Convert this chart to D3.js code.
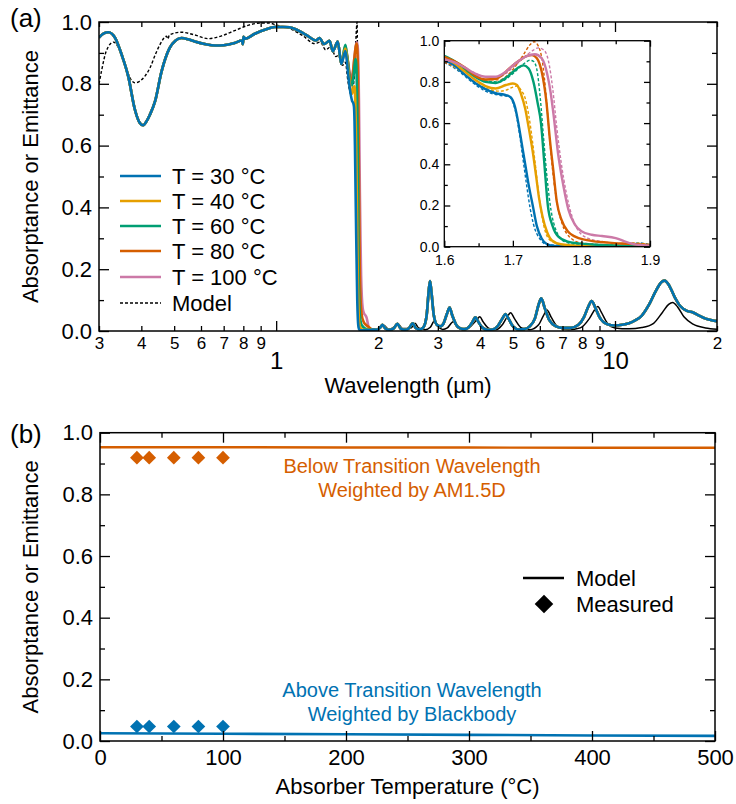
<!DOCTYPE html>
<html>
<head>
<meta charset="utf-8">
<script src="https://cdn.jsdelivr.net/npm/d3@7/dist/d3.min.js"></script>
<style>
  body { margin: 0; background: #fff; }
  svg text { font-family: "Liberation Sans", Arial, Helvetica, sans-serif; fill: #000; }
</style>
</head>
<body>
<svg id="chart" width="736" height="804"></svg>
<script>
// ---------- Panel (a): spectra, [wavelength µm, absorptance] ----------
// measured spectrum below 1.6 µm (shared by all temperatures)
const measuredShort = [[0.300,0.950],[0.310,0.963],[0.320,0.967],[0.335,0.948],[0.350,0.894],[0.366,0.824],[0.383,0.716],[0.395,0.675],[0.405,0.666],[0.415,0.680],[0.424,0.700],[0.439,0.743],[0.459,0.840],[0.485,0.916],[0.505,0.940],[0.525,0.948],[0.550,0.944],[0.575,0.937],[0.620,0.928],[0.660,0.924],[0.700,0.925],[0.754,0.932],[0.793,0.940],[0.797,0.928],[0.801,0.952],[0.810,0.946],[0.865,0.962],[0.930,0.976],[0.990,0.984],[1.050,0.984],[1.095,0.983],[1.150,0.975],[1.200,0.964],[1.250,0.952],[1.310,0.940],[1.341,0.948],[1.386,0.929],[1.437,0.939],[1.470,0.905],[1.520,0.937],[1.557,0.864]];

// measured spectrum above 1.9 µm (shared by all temperatures)
const measuredIR = [[1.920,0.005],[1.980,0.004],[2.030,0.012],[2.060,0.020],[2.100,0.008],[2.150,0.004],[2.220,0.008],[2.280,0.023],[2.330,0.008],[2.400,0.004],[2.470,0.010],[2.530,0.025],[2.580,0.010],[2.650,0.005],[2.720,0.012],[2.780,0.050],[2.820,0.130],[2.845,0.162],[2.870,0.130],[2.920,0.050],[2.980,0.020],[3.050,0.015],[3.120,0.025],[3.190,0.055],[3.250,0.076],[3.310,0.050],[3.400,0.020],[3.500,0.008],[3.600,0.006],[3.700,0.012],[3.800,0.030],[3.870,0.044],[3.950,0.030],[4.050,0.012],[4.200,0.004],[4.350,0.005],[4.500,0.015],[4.650,0.040],[4.750,0.055],[4.850,0.040],[5.000,0.015],[5.200,0.005],[5.400,0.006],[5.600,0.015],[5.800,0.040],[5.950,0.085],[6.060,0.106],[6.200,0.075],[6.400,0.035],[6.700,0.015],[7.000,0.010],[7.400,0.010],[7.800,0.020],[8.100,0.045],[8.350,0.080],[8.530,0.097],[8.750,0.075],[9.000,0.045],[9.500,0.022],[10.00,0.018],[10.50,0.020],[11.00,0.025],[11.50,0.035],[12.00,0.050],[12.60,0.085],[13.20,0.130],[13.70,0.158],[14.00,0.163],[14.40,0.150],[15.00,0.110],[15.60,0.080],[16.30,0.065],[17.00,0.060],[17.70,0.050],[18.50,0.040],[19.30,0.035],[20.00,0.032]];

// measured transition edge, 1.6–1.9 µm, per temperature
const edge30 = [[1.600,0.906],[1.615,0.880],[1.630,0.835],[1.645,0.795],[1.660,0.765],[1.675,0.745],[1.690,0.736],[1.697,0.725],[1.703,0.680],[1.708,0.600],[1.713,0.500],[1.718,0.400],[1.7225,0.310],[1.729,0.200],[1.735,0.100],[1.742,0.040],[1.750,0.012],[1.760,0.004],[1.800,0.002],[1.900,0.003]];
const edge40 = [[1.600,0.914],[1.615,0.890],[1.630,0.850],[1.645,0.810],[1.660,0.780],[1.675,0.768],[1.690,0.785],[1.700,0.792],[1.706,0.785],[1.712,0.740],[1.718,0.670],[1.723,0.580],[1.729,0.460],[1.734,0.340],[1.738,0.240],[1.743,0.150],[1.750,0.070],[1.757,0.030],[1.770,0.012],[1.800,0.004],[1.900,0.003]];
const edge60 = [[1.600,0.926],[1.615,0.900],[1.630,0.865],[1.645,0.825],[1.660,0.800],[1.675,0.795],[1.690,0.820],[1.700,0.848],[1.708,0.870],[1.716,0.880],[1.723,0.865],[1.730,0.800],[1.736,0.700],[1.741,0.600],[1.746,0.400],[1.751,0.200],[1.758,0.100],[1.766,0.050],[1.780,0.025],[1.800,0.015],[1.850,0.006],[1.900,0.004]];
const edge80 = [[1.600,0.922],[1.615,0.900],[1.630,0.870],[1.645,0.830],[1.660,0.812],[1.675,0.815],[1.690,0.850],[1.700,0.880],[1.710,0.905],[1.720,0.925],[1.728,0.930],[1.735,0.915],[1.742,0.850],[1.749,0.700],[1.754,0.520],[1.759,0.370],[1.764,0.220],[1.771,0.130],[1.780,0.075],[1.790,0.050],[1.808,0.032],[1.840,0.020],[1.870,0.014],[1.900,0.008]];
const edge100 = [[1.600,0.910],[1.615,0.895],[1.630,0.870],[1.645,0.840],[1.660,0.825],[1.675,0.825],[1.690,0.850],[1.700,0.880],[1.710,0.905],[1.720,0.925],[1.732,0.934],[1.742,0.915],[1.750,0.840],[1.755,0.750],[1.759,0.650],[1.766,0.450],[1.774,0.290],[1.781,0.180],[1.790,0.110],[1.800,0.075],[1.815,0.058],[1.830,0.052],[1.850,0.042],[1.866,0.022],[1.880,0.010],[1.900,0.005]];

// modelled transition edge, 1.6–1.9 µm, per temperature
const model30 = [[1.600,0.895],[1.620,0.855],[1.640,0.800],[1.660,0.755],[1.680,0.735],[1.695,0.728],[1.700,0.700],[1.705,0.640],[1.710,0.540],[1.715,0.420],[1.720,0.300],[1.725,0.190],[1.730,0.110],[1.740,0.035],[1.750,0.010],[1.800,0.003],[1.860,0.005],[1.875,0.016],[1.885,0.018],[1.900,0.010]];
const model40 = [[1.600,0.900],[1.620,0.860],[1.640,0.810],[1.660,0.770],[1.680,0.755],[1.690,0.760],[1.700,0.775],[1.706,0.780],[1.712,0.760],[1.718,0.720],[1.725,0.600],[1.732,0.420],[1.738,0.250],[1.744,0.120],[1.750,0.050],[1.760,0.020],[1.780,0.006],[1.860,0.006],[1.875,0.018],[1.890,0.015],[1.900,0.010]];
const model60 = [[1.600,0.910],[1.620,0.875],[1.640,0.835],[1.660,0.805],[1.680,0.800],[1.700,0.840],[1.715,0.885],[1.725,0.905],[1.730,0.900],[1.735,0.860],[1.740,0.720],[1.745,0.520],[1.750,0.330],[1.756,0.170],[1.763,0.080],[1.775,0.025],[1.800,0.008],[1.900,0.004]];
const model80 = [[1.600,0.895],[1.620,0.870],[1.640,0.840],[1.660,0.810],[1.680,0.810],[1.700,0.860],[1.715,0.930],[1.725,0.980],[1.731,0.995],[1.737,0.975],[1.743,0.900],[1.748,0.750],[1.753,0.550],[1.758,0.370],[1.764,0.220],[1.772,0.110],[1.782,0.050],[1.800,0.018],[1.850,0.008],[1.900,0.005]];
const model100 = [[1.600,0.905],[1.620,0.880],[1.640,0.850],[1.660,0.825],[1.680,0.825],[1.700,0.870],[1.715,0.915],[1.728,0.950],[1.737,0.965],[1.745,0.955],[1.752,0.900],[1.758,0.770],[1.764,0.580],[1.770,0.420],[1.778,0.260],[1.786,0.150],[1.795,0.080],[1.810,0.040],[1.830,0.025],[1.860,0.012],[1.900,0.005]];

// broadband model
const modelShort = [[0.300,0.800],[0.305,0.840],[0.315,0.905],[0.331,0.935],[0.345,0.910],[0.360,0.855],[0.372,0.815],[0.383,0.803],[0.395,0.808],[0.410,0.825],[0.424,0.851],[0.440,0.895],[0.454,0.927],[0.475,0.954],[0.479,0.945],[0.484,0.958],[0.525,0.967],[0.575,0.958],[0.630,0.946],[0.690,0.955],[0.754,0.972],[0.830,0.990],[0.903,0.997],[0.950,0.997],[1.000,0.990],[1.100,0.978],[1.200,0.955],[1.300,0.930],[1.350,0.935],[1.400,0.910],[1.450,0.920],[1.500,0.888],[1.540,0.895],[1.570,0.860],[1.600,0.870],[1.630,0.805],[1.665,0.765],[1.700,0.820],[1.720,0.950],[1.733,1.000],[1.742,0.700],[1.750,0.250],[1.760,0.040],[1.780,0.005],[1.800,0.002]];
const modelIR = [[1.800,0.002],[1.900,0.002],[2.000,0.005],[2.080,0.018],[2.150,0.005],[2.300,0.020],[2.360,0.008],[2.500,0.010],[2.570,0.025],[2.630,0.010],[2.750,0.004],[2.850,0.012],[2.930,0.032],[3.000,0.015],[3.100,0.005],[3.200,0.010],[3.330,0.030],[3.420,0.012],[3.550,0.004],[3.750,0.015],[3.900,0.035],[3.990,0.046],[4.080,0.030],[4.250,0.008],[4.450,0.004],[4.650,0.020],[4.820,0.048],[4.920,0.059],[5.050,0.040],[5.300,0.010],[5.600,0.004],[5.950,0.020],[6.150,0.050],[6.300,0.068],[6.480,0.045],[6.800,0.012],[7.300,0.004],[7.900,0.010],[8.400,0.040],[8.750,0.072],[8.900,0.079],[9.100,0.062],[9.500,0.025],[10.00,0.010],[11.00,0.007],[12.00,0.011],[13.00,0.025],[13.80,0.060],[14.40,0.086],[14.80,0.092],[15.30,0.078],[16.00,0.045],[17.00,0.022],[18.50,0.010],[20.00,0.006]];

const temps = ["30", "40", "60", "80", "100"];
const tempColors = ["#0072B2", "#E69F00", "#009E73", "#D55E00", "#CC79A7"];
const edges = [edge30, edge40, edge60, edge80, edge100];
const edgeModels = [model30, model40, model60, model80, model100];

// axis ticks, panel (a)
const wlMajor = [1, 10];
const wlMajorLabels = ["1", "10"];
const wlMinor = [0.3,0.4,0.5,0.6,0.7,0.8,0.9,2,3,4,5,6,7,8,9,20];
const wlMinorLabels = ["3","4","5","6","7","8","9","2","3","4","5","6","7","8","9","2"];
const yMajor = [0, 0.2, 0.4, 0.6, 0.8, 1.0];
const yMinor = [0.1, 0.3, 0.5, 0.7, 0.9];
const insetXMajor = [1.6, 1.7, 1.8, 1.9];
const insetXMinor = [1.65, 1.75, 1.85];

// ---------- Panel (b): band-averaged values vs temperature ----------
const modelTemps = [0, 100, 200, 300, 400, 500];
const modelBelow = [0.953, 0.953, 0.952, 0.952, 0.951, 0.951];
const modelAbove = [0.025, 0.0235, 0.022, 0.020, 0.018, 0.0165];
const measTemps = [30, 40, 60, 80, 100];
const measBelow = [0.919, 0.919, 0.919, 0.919, 0.919];
const measAbove = [0.047, 0.047, 0.047, 0.047, 0.047];
const tMajor = [0, 100, 200, 300, 400, 500];
const tMinor = [50, 150, 250, 350, 450];

const svg = d3.select("#chart");

// ---------- helpers ----------
function ticks(g, axisFn, scale, values, len, labels, pad, fontSize) {
  const ax = axisFn(scale).tickValues(values).tickSizeInner(-len).tickSizeOuter(0).tickPadding(pad)
    .tickFormat(labels ? (d, i) => labels[i] : () => "");
  const sel = g.append("g").call(ax);
  sel.select(".domain").remove();
  sel.selectAll(".tick line").attr("stroke", "#000").attr("stroke-width", 1.3);
  sel.selectAll(".tick text").attr("font-size", fontSize).attr("fill", "#000")
    .style("font-family", '"Liberation Sans", Arial, sans-serif');
  return sel;
}
function frame(g, x0, y0, x1, y1, sw) {
  g.append("rect").attr("x", x0).attr("y", y0).attr("width", x1 - x0).attr("height", y1 - y0)
    .attr("fill", "none").attr("stroke", "#000").attr("stroke-width", sw);
}

// ================= Panel (a) =================
const A = { l: 99, r: 717, t: 22, b: 331 };
const xw = d3.scaleLog().domain([0.3, 20]).range([A.l, A.r]);
const ya = d3.scaleLinear().domain([0, 1]).range([A.b, A.t]);

svg.append("clipPath").attr("id", "clipA").append("rect")
  .attr("x", A.l).attr("y", A.t - 2).attr("width", A.r - A.l).attr("height", A.b - A.t + 2);

const lineA = d3.line().x(d => xw(d[0])).y(d => ya(d[1])).curve(d3.curveMonotoneX);
const gA = svg.append("g").attr("clip-path", "url(#clipA)");

gA.append("path").attr("d", lineA(modelShort)).attr("fill", "none")
  .attr("stroke", "#000").attr("stroke-width", 1.4).attr("stroke-dasharray", "3,2");
gA.append("path").attr("d", lineA(modelIR)).attr("fill", "none")
  .attr("stroke", "#000").attr("stroke-width", 1.5);

// temperatures drawn from hottest to coolest so 30 °C sits on top
for (let i = temps.length - 1; i >= 0; i--) {
  const series = measuredShort.concat(edges[i], measuredIR);
  gA.append("path").attr("d", lineA(series)).attr("fill", "none")
    .attr("stroke", tempColors[i]).attr("stroke-width", 2.6).attr("stroke-linejoin", "round");
}

const axA = svg.append("g");
ticks(axA.append("g").attr("transform", `translate(0,${A.b})`), d3.axisBottom, xw, wlMinor, 5, wlMinorLabels, 6, 17);
ticks(axA.append("g").attr("transform", `translate(0,${A.b})`), d3.axisBottom, xw, wlMajor, 10, wlMajorLabels, 21, 24);
ticks(axA.append("g").attr("transform", `translate(0,${A.t})`), d3.axisTop, xw, wlMinor, 5, null, 3, 10);
ticks(axA.append("g").attr("transform", `translate(0,${A.t})`), d3.axisTop, xw, wlMajor, 10, null, 3, 10);
ticks(axA.append("g").attr("transform", `translate(${A.l},0)`), d3.axisLeft, ya, yMajor, 10, yMajor.map(d3.format(".1f")), 7, 22);
ticks(axA.append("g").attr("transform", `translate(${A.l},0)`), d3.axisLeft, ya, yMinor, 5, null, 3, 10);
ticks(axA.append("g").attr("transform", `translate(${A.r},0)`), d3.axisRight, ya, yMajor, 10, null, 3, 10);
ticks(axA.append("g").attr("transform", `translate(${A.r},0)`), d3.axisRight, ya, yMinor, 5, null, 3, 10);
frame(axA, A.l, A.t, A.r, A.b, 1.5);

svg.append("text").attr("x", 10).attr("y", 18).attr("dy", "0.35em").attr("font-size", 26).text("(a)");
svg.append("text").attr("x", (A.l + A.r) / 2).attr("y", 385).attr("dy", "0.35em")
  .attr("text-anchor", "middle").attr("font-size", 22).text("Wavelength (µm)");
svg.append("text").attr("transform", `translate(30,${(A.t + A.b) / 2}) rotate(-90)`).attr("dy", "0.35em")
  .attr("text-anchor", "middle").attr("font-size", 22).text("Absorptance or Emittance");

// legend (a)
const legA = svg.append("g");
const legRows = [176, 201, 226, 251, 277, 303];
temps.forEach((t, i) => {
  legA.append("line").attr("x1", 120).attr("x2", 161).attr("y1", legRows[i]).attr("y2", legRows[i])
    .attr("stroke", tempColors[i]).attr("stroke-width", 2.6);
  legA.append("text").attr("x", 172).attr("y", legRows[i]).attr("dy", "0.35em").attr("font-size", 22)
    .text(`T = ${t} °C`);
});
legA.append("line").attr("x1", 120).attr("x2", 161).attr("y1", legRows[5]).attr("y2", legRows[5])
  .attr("stroke", "#000").attr("stroke-width", 1.4).attr("stroke-dasharray", "3,2");
legA.append("text").attr("x", 172).attr("y", legRows[5]).attr("dy", "0.35em").attr("font-size", 22).text("Model");

// ---------- inset ----------
const I = { l: 444.3, r: 650, t: 40.7, b: 246.7 };
const xi = d3.scaleLinear().domain([1.6, 1.9]).range([I.l, I.r]);
const yi = d3.scaleLinear().domain([0, 1]).range([I.b, I.t]);
svg.append("rect").attr("x", I.l).attr("y", I.t).attr("width", I.r - I.l).attr("height", I.b - I.t).attr("fill", "#fff");
svg.append("clipPath").attr("id", "clipI").append("rect")
  .attr("x", I.l).attr("y", I.t - 1).attr("width", I.r - I.l).attr("height", I.b - I.t + 1);
const lineI = d3.line().x(d => xi(d[0])).y(d => yi(d[1])).curve(d3.curveMonotoneX);
const gI = svg.append("g").attr("clip-path", "url(#clipI)");
edgeModels.forEach((m, i) => {
  gI.append("path").attr("d", lineI(m)).attr("fill", "none").attr("stroke", tempColors[i])
    .attr("stroke-width", 1.4).attr("stroke-dasharray", "3,2");
});
edges.forEach((e, i) => {
  gI.append("path").attr("d", lineI(e)).attr("fill", "none").attr("stroke", tempColors[i])
    .attr("stroke-width", 2.4);
});
const axI = svg.append("g");
ticks(axI.append("g").attr("transform", `translate(0,${I.b})`), d3.axisBottom, xi, insetXMajor, 6, insetXMajor.map(d3.format(".1f")), 8, 14);
ticks(axI.append("g").attr("transform", `translate(0,${I.b})`), d3.axisBottom, xi, insetXMinor, 3.5, null, 3, 10);
ticks(axI.append("g").attr("transform", `translate(0,${I.t})`), d3.axisTop, xi, insetXMajor, 6, null, 3, 10);
ticks(axI.append("g").attr("transform", `translate(0,${I.t})`), d3.axisTop, xi, insetXMinor, 3.5, null, 3, 10);
ticks(axI.append("g").attr("transform", `translate(${I.l},0)`), d3.axisLeft, yi, yMajor, 6, yMajor.map(d3.format(".1f")), 5, 14);
ticks(axI.append("g").attr("transform", `translate(${I.l},0)`), d3.axisLeft, yi, yMinor, 3.5, null, 3, 10);
ticks(axI.append("g").attr("transform", `translate(${I.r},0)`), d3.axisRight, yi, yMajor, 6, null, 3, 10);
ticks(axI.append("g").attr("transform", `translate(${I.r},0)`), d3.axisRight, yi, yMinor, 3.5, null, 3, 10);
frame(axI, I.l, I.t, I.r, I.b, 1.3);

// ================= Panel (b) =================
const B = { l: 100, r: 715, t: 432.7, b: 741 };
const xt = d3.scaleLinear().domain([0, 500]).range([B.l, B.r]);
const yb = d3.scaleLinear().domain([0, 1]).range([B.b, B.t]);
const lineB = d3.line().x(d => xt(d[0])).y(d => yb(d[1]));
const orange = "#D55E00", blue = "#0072B2";

svg.append("path").attr("d", lineB(modelTemps.map((t, i) => [t, modelBelow[i]])))
  .attr("fill", "none").attr("stroke", orange).attr("stroke-width", 2.4);
svg.append("path").attr("d", lineB(modelTemps.map((t, i) => [t, modelAbove[i]])))
  .attr("fill", "none").attr("stroke", blue).attr("stroke-width", 2.6);

const diamond = d3.symbol().type(d3.symbolDiamond2).size(120);
svg.append("g").selectAll("path").data(measTemps).join("path")
  .attr("transform", (t, i) => `translate(${xt(t)},${yb(measBelow[i])})`)
  .attr("d", diamond).attr("fill", orange);
svg.append("g").selectAll("path").data(measTemps).join("path")
  .attr("transform", (t, i) => `translate(${xt(t)},${yb(measAbove[i])})`)
  .attr("d", diamond).attr("fill", blue);

const axB = svg.append("g");
ticks(axB.append("g").attr("transform", `translate(0,${B.b})`), d3.axisBottom, xt, tMajor, 10, tMajor.map(String), 8, 22);
ticks(axB.append("g").attr("transform", `translate(0,${B.b})`), d3.axisBottom, xt, tMinor, 5, null, 3, 10);
ticks(axB.append("g").attr("transform", `translate(0,${B.t})`), d3.axisTop, xt, tMajor, 10, null, 3, 10);
ticks(axB.append("g").attr("transform", `translate(0,${B.t})`), d3.axisTop, xt, tMinor, 5, null, 3, 10);
ticks(axB.append("g").attr("transform", `translate(${B.l},0)`), d3.axisLeft, yb, yMajor, 10, yMajor.map(d3.format(".1f")), 7, 22);
ticks(axB.append("g").attr("transform", `translate(${B.l},0)`), d3.axisLeft, yb, yMinor, 5, null, 3, 10);
ticks(axB.append("g").attr("transform", `translate(${B.r},0)`), d3.axisRight, yb, yMajor, 10, null, 3, 10);
ticks(axB.append("g").attr("transform", `translate(${B.r},0)`), d3.axisRight, yb, yMinor, 5, null, 3, 10);
frame(axB, B.l, B.t, B.r, B.b, 1.5);

svg.append("text").attr("x", 10).attr("y", 434).attr("dy", "0.35em").attr("font-size", 26).text("(b)");
svg.append("text").attr("x", (B.l + B.r) / 2).attr("y", 786).attr("dy", "0.35em")
  .attr("text-anchor", "middle").attr("font-size", 22).text("Absorber Temperature (°C)");
svg.append("text").attr("transform", `translate(30,${(B.t + B.b) / 2}) rotate(-90)`).attr("dy", "0.35em")
  .attr("text-anchor", "middle").attr("font-size", 22).text("Absorptance or Emittance");

// band annotations
const ann = [
  { text: "Below Transition Wavelength", y: 466, c: orange },
  { text: "Weighted by AM1.5D", y: 490, c: orange },
  { text: "Above Transition Wavelength", y: 690, c: blue },
  { text: "Weighted by Blackbody", y: 714, c: blue }
];
ann.forEach(a => {
  svg.append("text").attr("x", 412).attr("y", a.y).attr("dy", "0.35em").attr("text-anchor", "middle")
    .attr("font-size", 20).style("fill", a.c).text(a.text);
});

// legend (b)
svg.append("line").attr("x1", 523).attr("x2", 564).attr("y1", 578).attr("y2", 578)
  .attr("stroke", "#000").attr("stroke-width", 2.4);
svg.append("text").attr("x", 576).attr("y", 578).attr("dy", "0.35em").attr("font-size", 22).text("Model");
svg.append("path").attr("transform", "translate(544,604)")
  .attr("d", d3.symbol().type(d3.symbolDiamond2).size(220)).attr("fill", "#000");
svg.append("text").attr("x", 576).attr("y", 604).attr("dy", "0.35em").attr("font-size", 22).text("Measured");
</script>
</body>
</html>
